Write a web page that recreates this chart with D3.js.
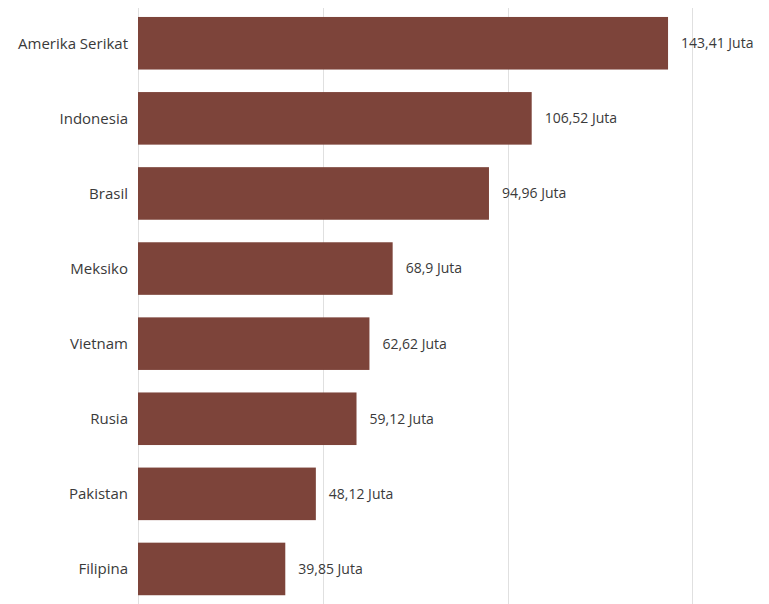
<!DOCTYPE html>
<html>
<head>
  <meta charset="UTF-8">
  <title>Bar chart</title>
  <style>
    body { margin: 0; background: #fff; }
    text { font-family: "Open Sans", "Noto Sans", sans-serif; font-size: 14px; fill: #3a3a3a; }
    .cat text { font-size: 15px; }
  </style>
  <script src="https://d3js.org/d3.v7.min.js"></script>
</head>
<body>
<svg id="chart" width="769" height="604"></svg>
<script>
    // data
    var countries = ["Amerika Serikat", "Indonesia", "Brasil", "Meksiko", "Vietnam", "Rusia", "Pakistan", "Filipina"];
    var values = [143.41, 106.52, 94.96, 68.9, 62.62, 59.12, 48.12, 39.85];
    var labels = ["143,41 Juta", "106,52 Juta", "94,96 Juta", "68,9 Juta", "62,62 Juta", "59,12 Juta", "48,12 Juta", "39,85 Juta"];
    var ticks = [0, 50, 100, 150];

    var svg = d3.select("#chart");

    var x = d3.scaleLinear()
        .domain([0, 150])
        .range([138, 692.4]);

    var y = d3.scaleBand()
        .domain(countries)
        .range([5.7, 606.5])
        .paddingInner(0.3)
        .paddingOuter(0.15);

    // gridlines
    svg.append("g")
        .selectAll("line")
        .data(ticks)
        .enter().append("line")
        .attr("x1", function(d) { return Math.round(x(d)) + 0.5; })
        .attr("x2", function(d) { return Math.round(x(d)) + 0.5; })
        .attr("y1", 8)
        .attr("y2", 604)
        .style("stroke", "#e0e0e0")
        .style("stroke-width", 1);

    // bars
    svg.append("g")
        .selectAll("rect")
        .data(values)
        .enter().append("rect")
        .attr("x", x(0))
        .attr("y", function(d, i) { return y(countries[i]); })
        .attr("width", function(d) { return x(d) - x(0); })
        .attr("height", y.bandwidth())
        .style("fill", "#7d443a");

    // category labels
    svg.append("g")
        .attr("class", "cat")
        .selectAll("text")
        .data(countries)
        .enter().append("text")
        .attr("x", x(0) - 10)
        .attr("y", function(d) { return y(d) + y.bandwidth() / 2; })
        .attr("dy", "0.35em")
        .attr("text-anchor", "end")
        .text(function(d) { return d; });

    // value labels
    svg.append("g")
        .selectAll("text")
        .data(values)
        .enter().append("text")
        .attr("x", function(d) { return x(d) + 13; })
        .attr("y", function(d, i) { return y(countries[i]) + y.bandwidth() / 2; })
        .attr("dy", "0.35em")
        .text(function(d, i) { return labels[i]; });
</script>
</body>
</html>
